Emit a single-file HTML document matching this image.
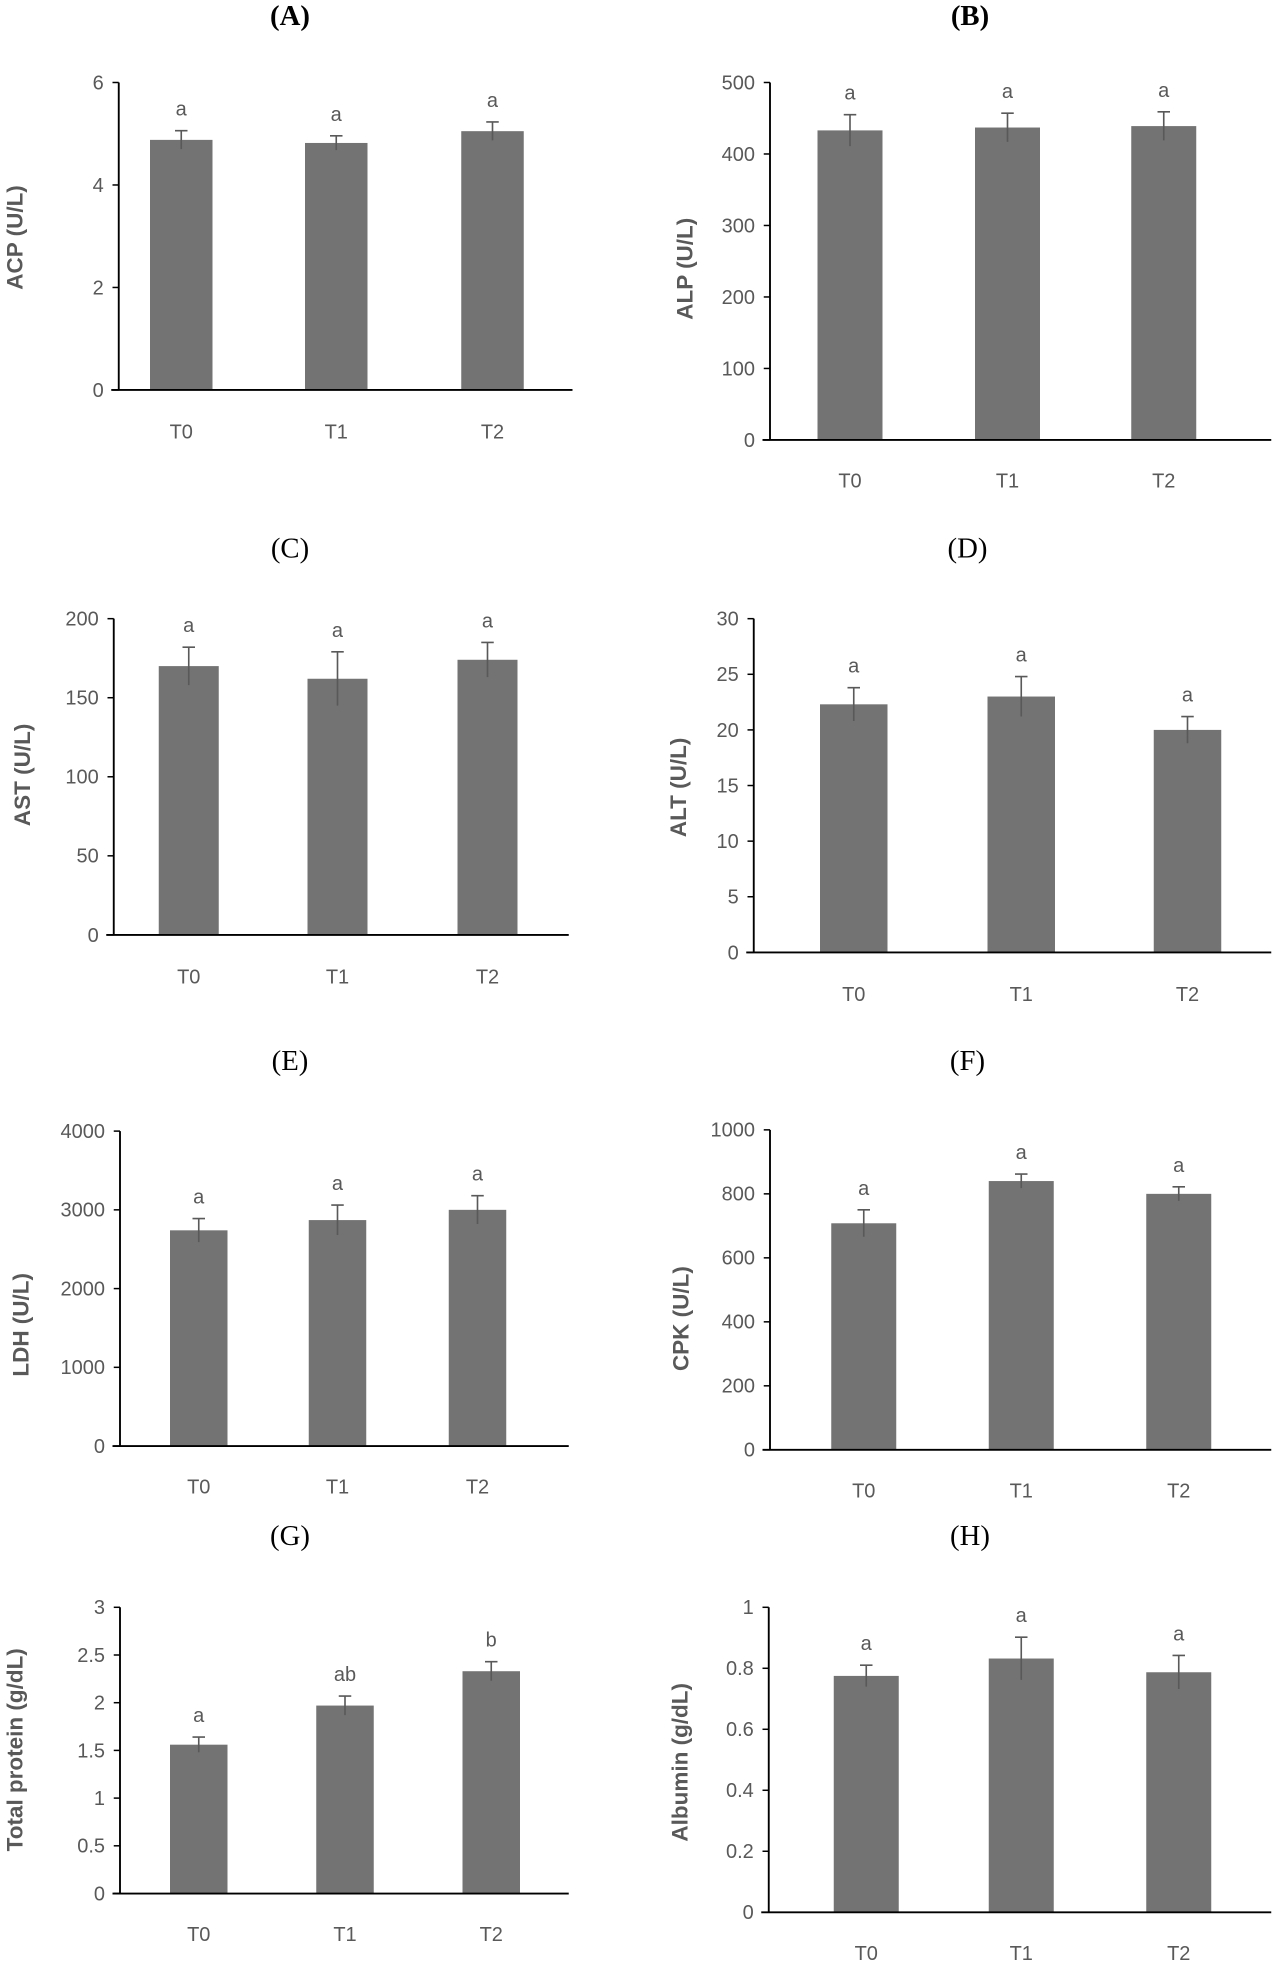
<!DOCTYPE html>
<html><head><meta charset="utf-8">
<style>
html,body{margin:0;padding:0;background:#fff;}
svg{display:block;}
.tick{font-family:"Liberation Sans",sans-serif;font-size:16px;fill:#595959;}
.ytitle{font-family:"Liberation Sans",sans-serif;font-size:18px;font-weight:bold;fill:#595959;}
.ptitle{font-family:"Liberation Serif",serif;font-size:23px;fill:#000;}
</style></head>
<body>
<svg id="fig" width="1280" height="1971" viewBox="0 0 1024 1577" preserveAspectRatio="none" xmlns="http://www.w3.org/2000/svg"></svg>
<script>
const categories = ["T0","T1","T2"];
const acpValues = [4.88, 4.82, 5.05];
const acpErrors = [0.18, 0.14, 0.18];
const acpLetters = ["a","a","a"];
const acpTicks = [0,2,4,6];
const alpValues = [433, 437, 439];
const alpErrors = [22, 20, 20];
const alpLetters = ["a","a","a"];
const alpTicks = [0,100,200,300,400,500];
const astValues = [170, 162, 174];
const astErrors = [12, 17, 11];
const astLetters = ["a","a","a"];
const astTicks = [0,50,100,150,200];
const altValues = [22.3, 23.0, 20.0];
const altErrors = [1.5, 1.8, 1.2];
const altLetters = ["a","a","a"];
const altTicks = [0,5,10,15,20,25,30];
const ldhValues = [2740, 2870, 3000];
const ldhErrors = [150, 190, 180];
const ldhLetters = ["a","a","a"];
const ldhTicks = [0,1000,2000,3000,4000];
const cpkValues = [708, 840, 800];
const cpkErrors = [42, 22, 22];
const cpkLetters = ["a","a","a"];
const cpkTicks = [0,200,400,600,800,1000];
const tpValues = [1.56, 1.97, 2.33];
const tpErrors = [0.08, 0.10, 0.10];
const tpLetters = ["a","ab","b"];
const tpTicks = ["0","0.5","1","1.5","2","2.5","3"];
const albValues = [0.775, 0.832, 0.787];
const albErrors = [0.035, 0.07, 0.055];
const albLetters = ["a","a","a"];
const albTicks = ["0","0.2","0.4","0.6","0.8","1"];

const NS = "http://www.w3.org/2000/svg";
const svg = document.getElementById("fig");
function mk(tag, attrs, parent, text){
  const e = document.createElementNS(NS, tag);
  for (const k in attrs) e.setAttribute(k, attrs[k]);
  if (text !== undefined) e.textContent = text;
  (parent||svg).appendChild(e);
  return e;
}
function panel(id, title, bold, tx, ty, ytitle, ylx, yly, ax, top, bottom, xend, centers, bw, values, errors, letters, ticks, xly){
  const g = mk("g", {});
  
  
  const t = mk("text", {x:tx, y:ty, "text-anchor":"middle", class:"ptitle", "font-weight": bold?"bold":"normal"}, g, title);
  
  
  const tickNums = ticks.map(Number);
  const ymax = tickNums[tickNums.length-1];
  const yScale = v => bottom - (v/ymax)*(bottom-top);
  const yt = mk("text", {x:ylx, y:yly, "text-anchor":"middle", class:"ytitle", transform:`rotate(-90 ${ylx} ${yly})`}, g, ytitle);
  
  
  ticks.forEach((tk,i)=>{
    const y = yScale(tickNums[i]);
    mk("line", {x1:ax-5, x2:ax, y1:y, y2:y, stroke:"#000", "stroke-width":1.2}, g);
    const tl = mk("text", {x:ax-12, y:y+5.5, "text-anchor":"end", class:"tick"}, g, String(tk));
    
    
  });
  categories.forEach((c,i)=>{
    const cx = centers[i];
    const y = yScale(values[i]);
    const bar = mk("rect", {x:cx-bw/2, y:y, width:bw, height:bottom-y, fill:"#737373"}, g);
    
    
    const yh = yScale(values[i]+errors[i]), yl = yScale(values[i]-errors[i]);
    const eb = mk("path", {d:`M${cx},${yl}V${yh}M${cx-5},${yh}H${cx+5}`, stroke:"#595959", "stroke-width":1.3, fill:"none"}, g);
    
    
    const lt = mk("text", {x:cx, y:yh-12, "text-anchor":"middle", class:"tick"}, g, letters[i]);
    
    
    const xl = mk("text", {x:cx, y:xly, "text-anchor":"middle", class:"tick"}, g, c);
    
    
  });
  mk("line", {x1:ax, x2:ax, y1:top, y2:bottom, stroke:"#000", "stroke-width":1.5}, g);
  mk("line", {x1:ax-6, x2:xend, y1:bottom, y2:bottom, stroke:"#000", "stroke-width":1.5}, g);
}
panel("a","(A)",true,232,20,"ACP (U/L)",18,190,95,66,312,458,[145,269,394],50,acpValues,acpErrors,acpLetters,acpTicks,351);
panel("b","(B)",true,776,20,"ALP (U/L)",554,215,616,66,352,1017,[680,806,931],52,alpValues,alpErrors,alpLetters,alpTicks,390);
panel("c","(C)",false,232,446,"AST (U/L)",24,620,91,495,748,455,[151,270,390],48,astValues,astErrors,astLetters,astTicks,787);
panel("d","(D)",false,774,446,"ALT (U/L)",549,630,603,495,762,1017,[683,817,950],54,altValues,altErrors,altLetters,altTicks,801);
panel("e","(E)",false,232,856,"LDH (U/L)",23,1060,96,905,1157,455,[159,270,382],46,ldhValues,ldhErrors,ldhLetters,ldhTicks,1195);
panel("f","(F)",false,774,856,"CPK (U/L)",551,1055,616,904,1160,1017,[691,817,943],52,cpkValues,cpkErrors,cpkLetters,cpkTicks,1198);
panel("g","(G)",false,232,1236,"Total protein (g/dL)",18,1400,96,1286,1515,455,[159,276,393],46,tpValues,tpErrors,tpLetters,tpTicks,1553);
panel("h","(H)",false,776,1236,"Albumin (g/dL)",550,1410,615,1286,1530,1017,[693,817,943],52,albValues,albErrors,albLetters,albTicks,1568);
</script>
</body></html>
